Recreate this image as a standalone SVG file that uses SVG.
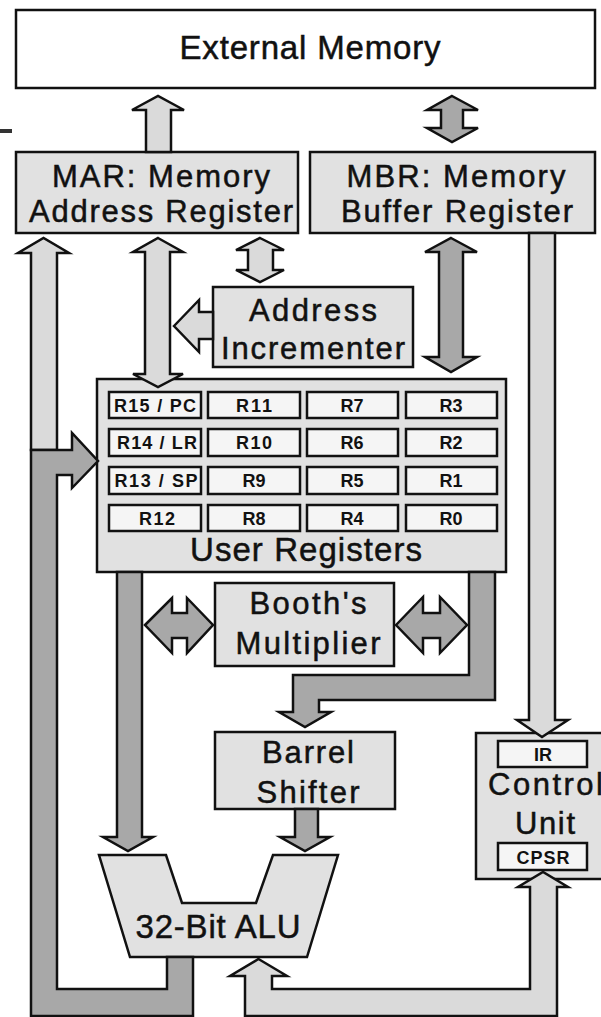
<svg xmlns="http://www.w3.org/2000/svg" width="601" height="1017" viewBox="0 0 601 1017">
<style>
.box{fill:#e1e1e1;stroke:#111;stroke-width:2.5}
.wbox{fill:#ffffff;stroke:#111;stroke-width:2.5}
.cell{fill:#f5f5f5;stroke:#111;stroke-width:2.5}
.la{fill:#dadada;stroke:#111;stroke-width:2.5;stroke-linejoin:miter}
.da{fill:#a8a8a8;stroke:#111;stroke-width:2.5;stroke-linejoin:miter}
.t{font-family:"Liberation Sans",Arial,sans-serif;font-size:33px;fill:#111;stroke:#111;stroke-width:0.5;text-anchor:middle}
.t2{font-size:31px}
.r{font-family:"Liberation Sans",Arial,sans-serif;font-size:18px;font-weight:bold;fill:#111;text-anchor:middle}
</style>
<rect width="601" height="1017" fill="#ffffff"/>
<rect x="0" y="129" width="12" height="4" fill="#333"/>
<g id="external-memory">
<rect class="wbox" x="16" y="10" width="579" height="78"/>
<text class="t" x="310" y="59" font-size="31" textLength="261">External Memory</text>
</g>
<g id="mar">
<rect class="box" x="16" y="152" width="282" height="81"/>
<text class="t t2" x="161" y="187" textLength="218">MAR: Memory</text>
<text class="t t2" x="161" y="222" textLength="264">Address Register</text>
</g>
<g id="mbr">
<rect class="box" x="310" y="152" width="285" height="81"/>
<text class="t t2" x="456" y="187" textLength="219">MBR: Memory</text>
<text class="t t2" x="457" y="222" textLength="232">Buffer Register</text>
</g>
<g id="address-incrementer">
<rect class="box" x="213" y="287" width="200" height="80"/>
<text class="t t2" x="313" y="321" textLength="128">Address</text>
<text class="t t2" x="313" y="359" textLength="184">Incrementer</text>
</g>
<g id="user-registers">
<rect class="box" x="97" y="379" width="409" height="193"/>
<rect class="cell" x="109" y="392" width="92" height="26"/>
<rect class="cell" x="208" y="392" width="92" height="26"/>
<rect class="cell" x="307" y="392" width="91" height="26"/>
<rect class="cell" x="406" y="392" width="91" height="26"/>
<rect class="cell" x="109" y="429" width="92" height="27"/>
<rect class="cell" x="208" y="429" width="92" height="27"/>
<rect class="cell" x="307" y="429" width="91" height="27"/>
<rect class="cell" x="406" y="429" width="91" height="27"/>
<rect class="cell" x="109" y="467" width="92" height="27"/>
<rect class="cell" x="208" y="467" width="92" height="27"/>
<rect class="cell" x="307" y="467" width="91" height="27"/>
<rect class="cell" x="406" y="467" width="91" height="27"/>
<rect class="cell" x="109" y="505" width="92" height="26"/>
<rect class="cell" x="208" y="505" width="92" height="26"/>
<rect class="cell" x="307" y="505" width="91" height="26"/>
<rect class="cell" x="406" y="505" width="91" height="26"/>
<text class="r" x="155" y="412" textLength="82">R15 / PC</text>
<text class="r" x="254" y="412" textLength="36">R11</text>
<text class="r" x="352" y="412">R7</text>
<text class="r" x="451" y="412">R3</text>
<text class="r" x="157" y="449" textLength="80">R14 / LR</text>
<text class="r" x="254" y="449" textLength="36">R10</text>
<text class="r" x="352" y="449">R6</text>
<text class="r" x="451" y="449">R2</text>
<text class="r" x="156" y="487" textLength="83">R13 / SP</text>
<text class="r" x="254" y="487">R9</text>
<text class="r" x="352" y="487">R5</text>
<text class="r" x="451" y="487">R1</text>
<text class="r" x="157" y="525" textLength="36">R12</text>
<text class="r" x="254" y="525">R8</text>
<text class="r" x="352" y="525">R4</text>
<text class="r" x="451" y="525">R0</text>
<text class="t" x="306" y="561" textLength="232">User Registers</text>
</g>
<g id="booths-multiplier">
<rect class="box" x="215" y="583" width="179" height="83"/>
<text class="t t2" x="308" y="614" textLength="117">Booth's</text>
<text class="t t2" x="308" y="654" textLength="145">Multiplier</text>
</g>
<g id="barrel-shifter">
<rect class="box" x="215" y="732" width="180" height="77"/>
<text class="t t2" x="308" y="763" textLength="92">Barrel</text>
<text class="t t2" x="308" y="803" textLength="103">Shifter</text>
</g>
<g id="alu">
<polygon class="box" points="99,855 166,855 182,903 256,903 273,855 338,855 307,957 130,957"/>
<text class="t" x="218" y="938" font-size="31" textLength="165">32-Bit ALU</text>
</g>
<g id="control-unit">
<rect class="box" x="476" y="733" width="140" height="146"/>
<rect class="cell" x="498" y="741" width="89" height="26"/>
<rect class="cell" x="498" y="843" width="89" height="27"/>
<text class="r" x="543" y="761" font-size="15">IR</text>
<text class="t t2" x="488" y="795" style="text-anchor:start" textLength="115">Control</text>
<text class="t t2" x="545" y="834" textLength="60">Unit</text>
<text class="r" x="543" y="864" font-size="16" textLength="53">CPSR</text>
</g>
<g id="connectors">
<polygon class="la" points="146,152 146,110 132,110 158,96 184,110 171,110 171,152"/>
<polygon class="da" points="452,96 478,110 463,110 463,128 478,128 452,142 427,128 441,128 441,110 427,110"/>
<polygon class="la" points="31,450 31,253 18,253 43.5,238 69,253 57,253 57,450"/>
<polygon class="da" points="31,1016 31,450 72,450 72,433 98,461 72,488 72,475 57,475 57,989 167,989 167,957 193,957 193,1016"/>
<polygon class="la" points="158,238 183,252 170,252 170,374 183,374 158,387 133,374 145,374 145,252 133,252"/>
<polygon class="da" points="451,238 477,252 463,252 463,357 477,357 451,372 425,357 439,357 439,252 425,252"/>
<polygon class="la" points="260,238 284,250 273,250 273,270 284,270 260,282 236,270 248,270 248,250 236,250"/>
<polygon class="la" points="174,326 199,300 199,312 213,312 213,339 199,339 199,352"/>
<polygon class="la" points="529,233 555,233 555,720 568,720 542,737 517,720 529,720"/>
<polygon class="la" points="258.5,959 287,976 272,976 272,989 530,989 530,887 518,887 543,872 568,887 557,887 557,1016 245,1016 245,976 230,976"/>
<polygon class="da" points="117,572 142,572 142,837 153,837 128,851 103,837 117,837"/>
<polygon class="da" points="145,625 172,598 172,613 187,613 187,598 213,625 187,653 187,638 172,638 172,653"/>
<polygon class="da" points="396,625 423,597 423,613 440,613 440,597 467,625 440,653 440,638 423,638 423,653"/>
<polygon class="da" points="469,572 495,572 495,700 319,700 319,712 331,712 305,727 279,712 293,712 293,675 469,675"/>
<polygon class="da" points="295,809 318,809 318,837 330,837 305,851 280,837 295,837"/>
</g>
</svg>
